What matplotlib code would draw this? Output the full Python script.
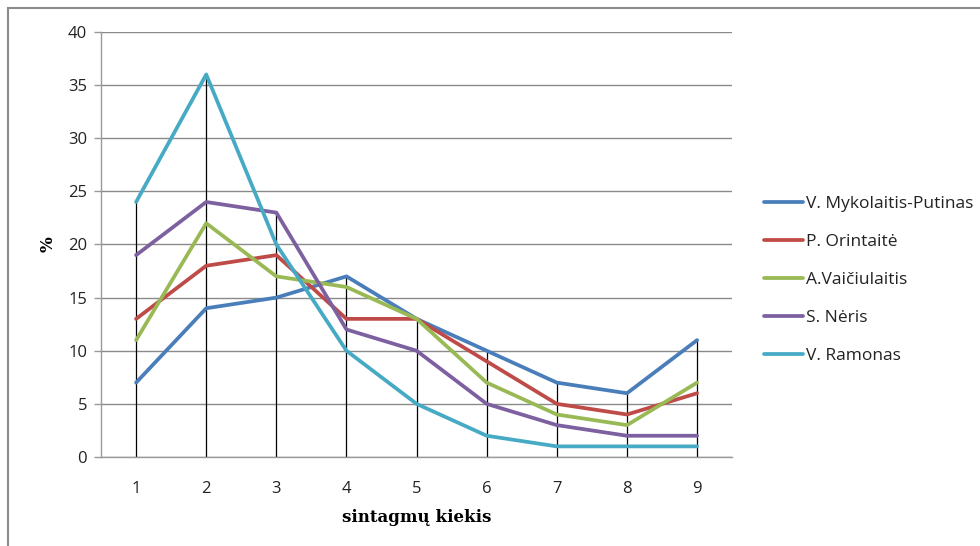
import matplotlib.pyplot as plt
from matplotlib.patches import Rectangle

# sintagmų kiekis vs. procentai pagal autorių
kiekis = [1, 2, 3, 4, 5, 6, 7, 8, 9]
autoriai = ["V. Mykolaitis-Putinas", "P. Orintaitė", "A.Vaičiulaitis", "S. Nėris", "V. Ramonas"]
putinas = [7, 14, 15, 17, 13, 10, 7, 6, 11]
orintaite = [13, 18, 19, 13, 13, 9, 5, 4, 6]
vaiciulaitis = [11, 22, 17, 16, 13, 7, 4, 3, 7]
neris = [19, 24, 23, 12, 10, 5, 3, 2, 2]
ramonas = [24, 36, 20, 10, 5, 2, 1, 1, 1]
spalvos = ["#4A7EBB", "#BE4B48", "#98B954", "#7D60A0", "#46AAC5"]

serijos = [putinas, orintaite, vaiciulaitis, neris, ramonas]

fig = plt.figure(figsize=(9.8, 5.46), dpi=100)
ax = fig.add_axes([0.1031, 0.163, 0.644, 0.7784])

# rėmelis aplink visą diagramą
fig.patches.append(Rectangle((8 / 980, -0.05), 1.0, 1 - 8 / 546 + 0.05,
                             transform=fig.transFigure, fill=False,
                             edgecolor="#8c8c8c", linewidth=1.5))

# vertikalios linijos nuo didžiausios reikšmės iki ašies
for i, x in enumerate(kiekis):
    top = max(s[i] for s in serijos)
    ax.plot([x, x], [0, top], color="black", linewidth=0.9, zorder=2)

for s, name, c in zip(serijos, autoriai, spalvos):
    ax.plot(kiekis, s, color=c, linewidth=2.7, label=name, zorder=3,
            solid_joinstyle="round", solid_capstyle="round")

ax.set_xlim(0.5, 9.5)
ax.set_ylim(0, 40)
ax.set_yticks(range(0, 41, 5))
ax.set_xticks(kiekis)
ax.yaxis.grid(True, color="#8a8a8a", linewidth=1.0, zorder=0)
ax.set_axisbelow(True)

for side in ["top", "right"]:
    ax.spines[side].set_visible(False)
for side in ["left", "bottom"]:
    ax.spines[side].set_color("#9a9a9a")
    ax.spines[side].set_linewidth(1.0)

ax.tick_params(axis="y", length=5, width=1, color="#9a9a9a", labelsize=12,
               labelcolor="#222222", pad=5)
ax.tick_params(axis="x", length=0, labelsize=12, labelcolor="#222222", pad=17)
for lab in ax.get_xticklabels() + ax.get_yticklabels():
    lab.set_family("Open Sans")

ax.set_ylabel("%", fontsize=12, fontweight="bold", family="DejaVu Serif", labelpad=8)
ax.set_xlabel("sintagmų kiekis", fontsize=12, fontweight="bold",
              family="DejaVu Serif", labelpad=9)

leg = ax.legend(loc="center left", bbox_to_anchor=(1.025, 0.4165), frameon=False,
                prop={"family": "Open Sans", "size": 12.5}, handlelength=2.3,
                handletextpad=0.15, labelspacing=1.25)
for t in leg.get_texts():
    t.set_color("#222222")

fig.savefig("out.png", dpi=100)
